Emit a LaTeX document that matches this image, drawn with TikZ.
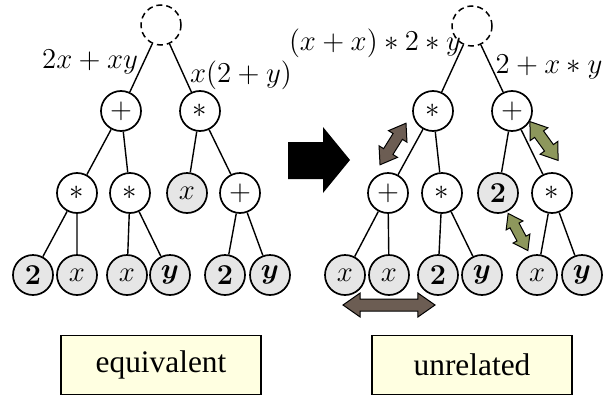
\documentclass[tikz,border=0pt]{standalone}
\usepackage{amsmath}
\usepackage{bm}
\usepackage[no-math]{fontspec}
\newfontfamily\boxfont{Liberation Serif}
\usepackage{tikz}
\usetikzlibrary{shapes.arrows}
\definecolor{leafgray}{RGB}{230,230,230}
\definecolor{notebox}{RGB}{255,255,225}
\definecolor{taupe}{RGB}{108,93,83}
\definecolor{moss}{RGB}{141,151,92}
\tikzset{
  op/.style={circle, draw, line width=0.85pt, minimum size=20pt, inner sep=0pt,
    fill=white, font=\fontsize{14.5}{16}\selectfont},
  leaf/.style={op, fill=leafgray},
  hole/.style={circle, draw, dashed, dash pattern=on 3pt off 2pt, line width=0.75pt,
    minimum size=20pt, inner sep=0pt},
  edge/.style={line width=0.7pt},
  tag/.style={font=\fontsize{14}{16}\selectfont, inner sep=0pt},
  swap/.style={double arrow, draw, line width=0.5pt, inner xsep=0pt,
    double arrow tip angle=70},
  verdict/.style={draw, fill=notebox, line width=0.8pt, minimum width=100pt,
    minimum height=29.5pt, font=\boxfont\fontsize{15.7}{18}\selectfont}
}

\begin{document}
\begin{tikzpicture}[x=0.5pt, y=-0.5pt]
\useasboundingbox (0,0) rectangle (613,401);
% left tree: 2x+xy against x(2+y)
\node[hole] (lroot) at (161,25) {};
\node[op] (lsum) at (121,111) {$+$};
\node[op] (lprod) at (200,111) {$*$};
\node[op] (lm1) at (77,193) {$*$};
\node[op] (lm2) at (130,193) {$*$};
\node[leaf] (lx) at (187,193) {$x$};
\node[op] (lp) at (240,193) {$+$};
\node[leaf] (l1) at (33,275) {$\mathbf{2}$};
\node[leaf] (l2) at (77,275) {$x$};
\node[leaf] (l3) at (127,275) {$x$};
\node[leaf] (l4) at (170,275) {$\bm{y}$};
\node[leaf] (l5) at (225,275) {$\mathbf{2}$};
\node[leaf] (l6) at (270,275) {$\bm{y}$};
\draw[edge] (lroot) -- (lsum) (lroot) -- (lprod);
\draw[edge] (lsum) -- (lm1) (lsum) -- (lm2);
\draw[edge] (lprod) -- (lx) (lprod) -- (lp);
\draw[edge] (lm1) -- (l1) (lm1) -- (l2);
\draw[edge] (lm2) -- (l3) (lm2) -- (l4);
\draw[edge] (lp) -- (l5) (lp) -- (l6);
\node[tag] (lta) at (90,62) {$2x+xy$};
\node[tag] (ltb) at (241,75) {$x(2+y)$};
\node[verdict] (same) at (161,365) {equivalent};

% the big arrow
\fill (288,142) -- (323,142) -- (323,127) -- (350,160) -- (323,193)
  -- (323,179) -- (288,179) -- cycle;

% right tree: (x+x)*2*y against 2+x*y
\node[hole] (rroot) at (472,26) {};
\node[op] (rprod) at (433,111) {$*$};
\node[op] (rsum) at (512,111) {$+$};
\node[op] (rp) at (388,193) {$+$};
\node[op] (rm1) at (442,193) {$*$};
\node[leaf] (rtwo) at (498,193) {$\mathbf{2}$};
\node[op] (rm2) at (552,193) {$*$};
\node[leaf] (r1) at (345,275) {$x$};
\node[leaf] (r2) at (389,275) {$x$};
\node[leaf] (r3) at (438,275) {$\mathbf{2}$};
\node[leaf] (r4) at (482,275) {$\bm{y}$};
\node[leaf] (r5) at (537,275) {$x$};
\node[leaf] (r6) at (582,275) {$\bm{y}$};
\draw[edge] (rroot) -- (rprod) (rroot) -- (rsum);
\draw[edge] (rprod) -- (rp) (rprod) -- (rm1);
\draw[edge] (rsum) -- (rtwo) (rsum) -- (rm2);
\draw[edge] (rp) -- (r1) (rp) -- (r2);
\draw[edge] (rm1) -- (r3) (rm1) -- (r4);
\draw[edge] (rm2) -- (r5) (rm2) -- (r6);
\node[tag] (rta) at (375,43) {$(x+x)*2*y$};
\node[tag] (rtb) at (549,67) {$2+x*y$};
\node[verdict] (apart) at (472,365) {unrelated};

% swapped subtrees
\node[swap, fill=taupe, rotate=58, minimum height=24.5pt, inner ysep=2.5pt,
  double arrow head extend=2.7pt] (sw1) at (393,144) {};
\node[swap, fill=moss, rotate=-54, minimum height=24pt, inner ysep=2.5pt,
  double arrow head extend=2.7pt] (sw2) at (544,141) {};
\node[swap, fill=moss, rotate=-62, minimum height=21pt, inner ysep=2.3pt,
  double arrow head extend=2.2pt] (sw3) at (518,232) {};
\node[swap, fill=taupe, minimum height=46pt, inner ysep=2.75pt,
  double arrow head extend=3pt] (sw4) at (389,305) {};
\end{tikzpicture}
\end{document}
